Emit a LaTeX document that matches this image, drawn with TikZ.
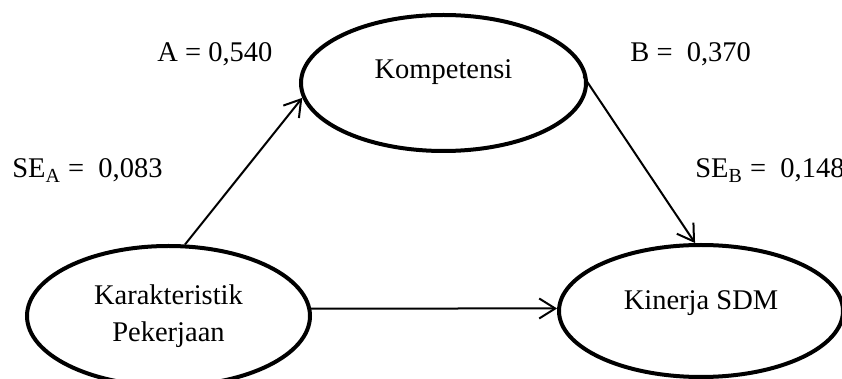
\documentclass[tikz,border=0pt]{standalone}
\usepackage{fontspec}
\setmainfont{Liberation Serif}
\usetikzlibrary{shapes.geometric,arrows.meta}
\begin{document}
\begin{tikzpicture}[x=0.5pt,y=-0.5pt,
  oval/.style={draw, ellipse, line width=2pt, inner sep=0pt},
  txt/.style={font=\fontsize{14.25pt}{18.5pt}\selectfont, inner sep=0pt},
  arr/.style={-{Straight Barb[length=8pt,width=10pt]}, line width=1pt}]
\useasboundingbox (0,0) rectangle (842,379);
\node[oval, minimum width=142.5pt, minimum height=68pt] (komp) at (443.5,83) {};
\node[oval, minimum width=141.5pt, minimum height=70pt] (kar) at (168.5,316) {};
\node[oval, minimum width=142pt, minimum height=66pt] (kin) at (701,311) {};
\node[txt, anchor=base] (kompt) at (443.5,79) {Kompetensi};
\node[txt, anchor=base, align=center] (kart) at (168.5,342) {Karakteristik\\Pekerjaan};
\node[txt, anchor=base] (kint) at (701,310) {Kinerja SDM};
\node[txt, anchor=base west] (la) at (157,62) {A = 0,540};
\node[txt, anchor=base west] (lsea) at (12,178) {SE\textsubscript{A} =~ 0,083};
\node[txt, anchor=base west] (lb) at (630,62) {B =~ 0,370};
\node[txt, anchor=base west] (lseb) at (695,178) {SE\textsubscript{B} =~ 0,148};
\draw[arr] (kar.77) -- (komp.186);
\draw[arr, shorten <=-4pt] (komp.0) -- (kin.95);
\draw[arr] (kar.3) -- (kin.179);
\end{tikzpicture}
\end{document}
